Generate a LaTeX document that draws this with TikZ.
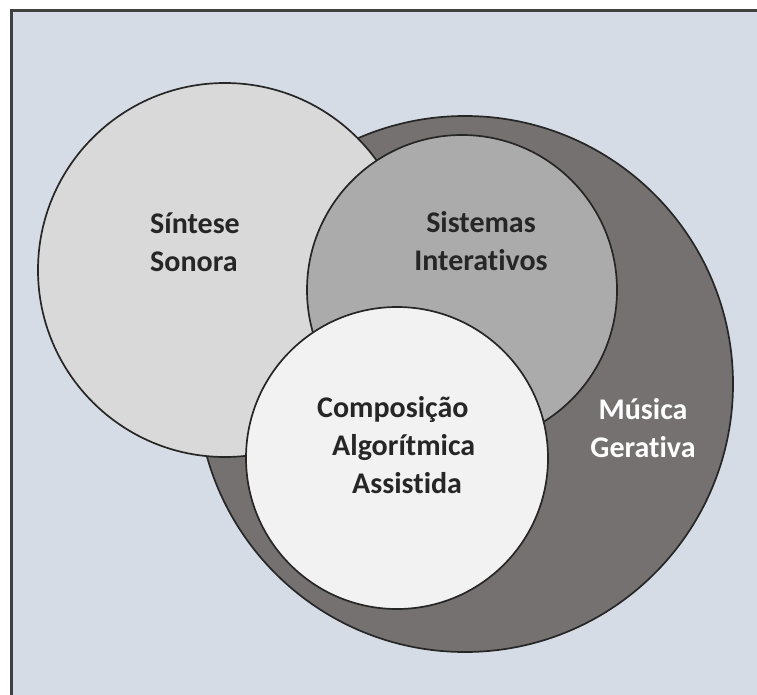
\documentclass[tikz,border=0pt]{standalone}
\usepackage{fontspec}
\setmainfont{Carlito}[Ligatures={NoCommon,NoContextual}]
\definecolor{bgpanel}{HTML}{D6DCE5}
\definecolor{framecol}{HTML}{404040}
\definecolor{edgecol}{HTML}{262626}
\definecolor{gerfill}{HTML}{767171}
\definecolor{sinfill}{HTML}{D9D9D9}
\definecolor{sisfill}{HTML}{ABABAB}
\definecolor{compfill}{HTML}{F2F2F2}
\definecolor{labelcol}{HTML}{262626}
\begin{document}
\begin{tikzpicture}[x=1bp,y=-1bp,
  area/.style={circle,draw=edgecol,line width=1.7bp,inner sep=0pt},
  label/.style={font=\bfseries\fontsize{30bp}{38bp}\selectfont,text=labelcol,inner sep=0pt},
  whitelabel/.style={label,text=white}]
  \useasboundingbox (0,0) rectangle (757,695);
  \begin{scope}
    \clip (-1,-1) rectangle (760,700);
    % panel with its left and top border
    \fill[white] (-5,-5) rectangle (770,710);
    \fill[bgpanel] (11,11) rectangle (770,710);
    \draw[framecol,line width=3bp] (11,720) -- (11,11) -- (780,11);
  \end{scope}

  % sets
  \node[area,fill=gerfill,minimum size=536bp] (ger) at (465,384) {};
  \node[area,fill=sinfill,minimum size=374bp] (sin) at (225,270) {};
  \node[area,fill=sisfill,minimum size=310bp] (sis) at (462,290) {};
  \node[area,fill=compfill,minimum size=302bp] (comp) at (397,458) {};

  % labels (anchored at the baseline of their last line)
  \node[label,align=left,anchor=base west] (sinlab) at (150,271) {Síntese\\Sonora};
  \node[label,align=center,anchor=base] (sislab) at (481,270) {Sistemas\\Interativos};
  \node[label,align=left,anchor=base west] (complab) at (317,493)
    {Composição\\\hspace*{15bp}Algorítmica\\\hspace*{35bp}Assistida};
  \node[whitelabel,align=center,anchor=base] (gerlab) at (643,457) {Música\\Gerativa};
\end{tikzpicture}
\end{document}
